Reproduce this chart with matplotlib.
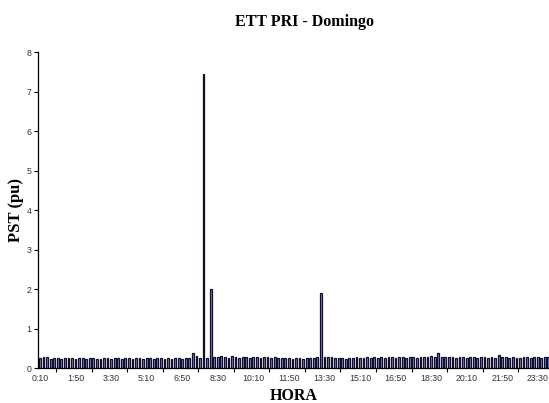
import matplotlib
matplotlib.use("Agg")
import matplotlib.pyplot as plt
import numpy as np

# 10-minute intervals from 0:10 to 24:00 (144 bars)
minutes = list(range(10, 24 * 60 + 1, 10))
times = [f"{m // 60}:{m % 60:02d}" for m in minutes]

pst = [
    0.25, 0.27, 0.28, 0.24, 0.26, 0.25, 0.24, 0.25, 0.26, 0.25,
    0.24, 0.25, 0.25, 0.24, 0.25, 0.25, 0.24, 0.24, 0.25, 0.25,
    0.24, 0.25, 0.25, 0.24, 0.25, 0.25, 0.24, 0.25, 0.25, 0.24,
    0.25, 0.25, 0.24, 0.25, 0.25, 0.24, 0.25, 0.24, 0.25, 0.26,
    0.24, 0.25, 0.26, 0.37, 0.30, 0.25, 7.45, 0.25, 2.00, 0.27,
    0.27, 0.30, 0.27, 0.25, 0.30, 0.28, 0.26, 0.29, 0.28, 0.26,
    0.28, 0.27, 0.25, 0.27, 0.28, 0.26, 0.27, 0.26, 0.25, 0.26,
    0.25, 0.24, 0.25, 0.25, 0.24, 0.25, 0.26, 0.25, 0.27, 1.90,
    0.29, 0.28, 0.27, 0.25, 0.25, 0.26, 0.24, 0.25, 0.26, 0.27,
    0.25, 0.26, 0.27, 0.25, 0.27, 0.26, 0.27, 0.25, 0.27, 0.28,
    0.26, 0.27, 0.28, 0.25, 0.27, 0.28, 0.26, 0.28, 0.27, 0.28,
    0.30, 0.28, 0.37, 0.29, 0.27, 0.28, 0.27, 0.26, 0.27, 0.27,
    0.26, 0.27, 0.28, 0.26, 0.27, 0.28, 0.26, 0.27, 0.26, 0.33,
    0.28, 0.27, 0.26, 0.27, 0.26, 0.25, 0.27, 0.28, 0.26, 0.27,
    0.28, 0.26, 0.27, 0.28,
]

yticks = list(range(0, 9))

fig = plt.figure(figsize=(5.49, 4.03), dpi=100)
ax = fig.add_axes([0.0696, 0.0868, 0.939, 0.784])

x = np.arange(len(pst))
ax.bar(x, pst, width=0.5, color="#8080E8", edgecolor="#111122", linewidth=0.9)

ax.set_xlim(-0.5, len(pst) - 0.5)
ax.set_ylim(0, 8)
ax.set_yticks(yticks)
ax.set_yticklabels([str(v) for v in yticks], fontsize=6.3, family="Liberation Sans",
                   color="#333333")

lab_idx = list(range(0, len(pst), 10))
ax.set_xticks(lab_idx)
ax.set_xticklabels([times[i] for i in lab_idx], fontsize=6.3, family="Liberation Sans",
                   color="#333333")
ax.tick_params(axis="x", which="major", length=0, pad=4)
ax.set_xticks([i + 4.5 for i in lab_idx], minor=True)
ax.tick_params(axis="x", which="minor", length=3, width=0.8, direction="out")
ax.tick_params(axis="y", length=3, width=0.8, pad=2)

for s in ["top", "right"]:
    ax.spines[s].set_visible(False)
for s in ["left", "bottom"]:
    ax.spines[s].set_linewidth(0.9)

fig.text(0.554, 0.945, "ETT PRI - Domingo", ha="center", va="center",
         fontsize=11.5, fontweight="bold", family="Liberation Serif")
fig.text(0.534, 0.018, "HORA", ha="center", va="center",
         fontsize=11.5, fontweight="bold", family="Liberation Serif")
fig.text(0.03, 0.48, "PST (pu)", ha="center", va="center", rotation=90,
         fontsize=12, fontweight="bold", family="Liberation Serif")

fig.savefig("out.png", dpi=100)
